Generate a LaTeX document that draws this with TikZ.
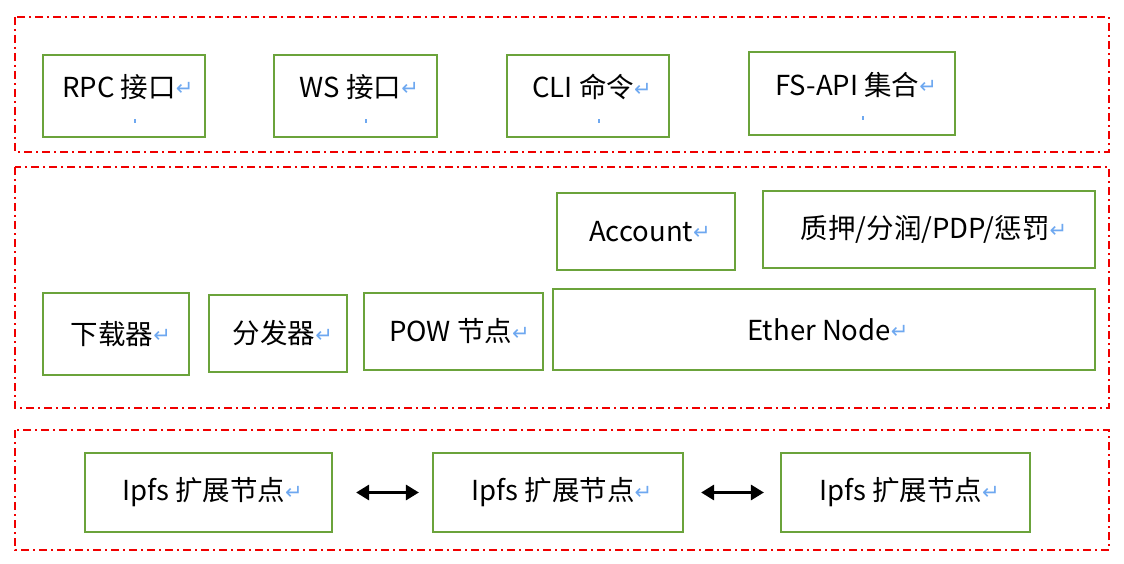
\documentclass[tikz,border=0pt]{standalone}
\usepackage{fontspec}
\setmainfont{Noto Sans CJK SC}
\newfontfamily\dejavu{DejaVu Sans}
\usetikzlibrary{arrows.meta}
\definecolor{boxgreen}{RGB}{107,163,59}
\definecolor{framered}{RGB}{240,0,0}
\definecolor{retblue}{RGB}{110,168,240}
\newcommand{\retmark}{\raisebox{1.5pt}{\dejavu\color{retblue}\fontsize{21}{21}\selectfont ↵}}
\tikzset{
  frame/.style={draw=framered, line width=1.8pt, dash pattern=on 8pt off 4pt on 2pt off 4pt},
  gbox/.style={draw=boxgreen, line width=2.2pt, inner sep=0pt},
  txt/.style={inner sep=0pt, font=\fontsize{27.5}{30}\selectfont},
  wdot/.style={fill=retblue, inner sep=0pt, minimum width=2pt, minimum height=4pt},
  dbl/.style={{Triangle[length=13pt,width=15pt]}-{Triangle[length=13pt,width=15pt]}, line width=3pt, black}
}
\begin{document}
\begin{tikzpicture}[x=1pt,y=-1pt]
\useasboundingbox (0,0) rectangle (1124,564);
% frames
\draw[frame] (15,17) rectangle (1109,152);
\draw[frame] (15,167) rectangle (1109,408);
\draw[frame] (15,430) rectangle (1109,550);
% top row
\node[gbox, minimum width=162pt, minimum height=82pt] (rpc) at (124,96) {};
\node[txt] (rpct) at ([xshift=4pt,yshift=9pt]rpc.center) {RPC 接口\retmark};
\node[wdot] (rpcd) at ([xshift=10.5pt,yshift=-25pt]rpc.center) {};
\node[gbox, minimum width=163pt, minimum height=82pt] (ws) at (355.5,96) {};
\node[txt] (wst) at ([xshift=4pt,yshift=9pt]ws.center) {WS 接口\retmark};
\node[wdot] (wsd) at ([xshift=10.5pt,yshift=-25pt]ws.center) {};
\node[gbox, minimum width=162pt, minimum height=82pt] (cli) at (588,96) {};
\node[txt] (clit) at ([xshift=4pt,yshift=9pt]cli.center) {CLI 命令\retmark};
\node[wdot] (clid) at ([xshift=10.5pt,yshift=-25pt]cli.center) {};
\node[gbox, minimum width=206pt, minimum height=83pt] (fs) at (852,93.5) {};
\node[txt] (fst) at ([xshift=4pt,yshift=9pt]fs.center) {FS-API 集合\retmark};
\node[wdot] (fsd) at ([xshift=10.5pt,yshift=-25pt]fs.center) {};
% middle
\node[gbox, minimum width=178pt, minimum height=77pt] (acc) at (646,231.5) {};
\node[txt] (acct) at ([xshift=4pt]acc.center) {Account\retmark};
\node[gbox, minimum width=332pt, minimum height=77pt] (pdp) at (929,229.5) {};
\node[txt] (pdpt) at ([xshift=5pt]pdp.center) {质押/分润/PDP/惩罚\retmark};
\node[gbox, minimum width=146pt, minimum height=82pt] (dl) at (116,334) {};
\node[txt] (dlt) at ([xshift=5pt]dl.center) {下载器\retmark};
\node[gbox, minimum width=138pt, minimum height=77pt] (dist) at (278,333.5) {};
\node[txt] (distt) at ([xshift=5pt]dist.center) {分发器\retmark};
\node[gbox, minimum width=179pt, minimum height=77pt] (pow) at (453.5,331.5) {};
\node[txt] (powt) at ([xshift=6pt]pow.center) {POW 节点\retmark};
\node[gbox, minimum width=542pt, minimum height=81pt] (eth) at (824,329.5) {};
\node[txt] (etht) at ([xshift=4pt]eth.center) {Ether Node\retmark};
% bottom
\node[gbox, minimum width=247pt, minimum height=79pt] (ip1) at (208.5,492.5) {};
\node[txt] (ip1t) at ([xshift=4pt]ip1.center) {Ipfs 扩展节点\retmark};
\node[gbox, minimum width=250pt, minimum height=79pt] (ip2) at (558,492.5) {};
\node[txt] (ip2t) at ([xshift=4pt]ip2.center) {Ipfs 扩展节点\retmark};
\node[gbox, minimum width=249pt, minimum height=79pt] (ip3) at (905.5,492.5) {};
\node[txt] (ip3t) at ([xshift=4pt]ip3.center) {Ipfs 扩展节点\retmark};
\draw[dbl, shorten <=23pt, shorten >=13pt] (ip1) -- (ip2);
\draw[dbl, shorten <=17pt, shorten >=16pt] (ip2) -- (ip3);
\end{tikzpicture}
\end{document}
